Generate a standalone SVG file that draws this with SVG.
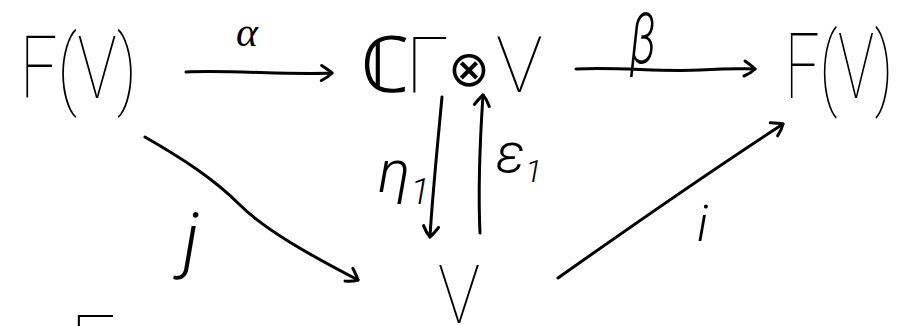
<svg xmlns="http://www.w3.org/2000/svg" width="905" height="326" viewBox="0 0 905 326">
<style>
.n{font-family:Roboto,"DejaVu Sans",sans-serif;font-weight:100;fill:#000}
.l{font-family:Roboto,"DejaVu Sans",sans-serif;font-weight:300;font-style:italic;fill:#000}
.s{font-family:"Liberation Serif","DejaVu Serif",serif;font-style:italic;fill:#000}
.c{fill:none;stroke:#000;stroke-width:3;stroke-linecap:round}
</style>
<defs>
<marker id="ah" viewBox="-14 -10 16 20" refX="0" refY="0" markerWidth="16" markerHeight="20" orient="auto" markerUnits="userSpaceOnUse">
<path d="M-10,-8 Q-3,-3 0,0 Q-4,4 -11,7" fill="none" stroke="#000" stroke-width="3" stroke-linecap="round" stroke-linejoin="round"/>
</marker>
</defs>
<rect width="905" height="326" fill="#fff"/>
<g id="FV-left"><text class="n" x="20" y="98" font-size="88" textLength="117" lengthAdjust="spacingAndGlyphs">F(V)</text></g>
<g id="CG-V"><text class="n" y="92" font-size="78"><tspan x="361">ℂ</tspan><tspan x="406">Γ</tspan><tspan x="448" font-size="50" dy="-6">⊗</tspan><tspan x="496" dy="6">V</tspan></text></g>
<g id="FV-right"><text class="n" x="785" y="98" font-size="90" textLength="108" lengthAdjust="spacingAndGlyphs">F(V)</text></g>
<g id="V-bottom"><text class="n" x="438" y="323" font-size="82" textLength="42" lengthAdjust="spacingAndGlyphs">V</text></g>
<g id="partial"><text class="n" x="70" y="372" font-size="80">F</text></g>
<g id="connectors">
<path class="c" marker-end="url(#ah)" d="M186,72 C230,70 290,75 332,73"/>
<path class="c" marker-end="url(#ah)" d="M576,69 C620,67 660,72 700,70 S740,69 755,69"/>
<path class="c" marker-end="url(#ah)" d="M442,97 C438,140 432,200 430,237"/>
<path class="c" marker-end="url(#ah)" d="M480,233 C478,190 480,140 483,95"/>
<path class="c" marker-end="url(#ah)" d="M145,137 C185,160 215,180 240,205 S310,255 358,280"/>
<path class="c" marker-end="url(#ah)" d="M558,278 C640,220 720,165 783,124"/>
</g>
<g id="labels">
<text class="s" x="236" y="46" font-size="42">α</text>
<text class="l" x="630" y="63" font-size="70" textLength="26" lengthAdjust="spacingAndGlyphs">β</text>
<text class="l" x="378" y="192" font-size="60">η<tspan font-size="36" dy="12">1</tspan></text>
<text class="l" x="496" y="172" font-size="55">ε<tspan font-size="32" dy="10">1</tspan></text>
<text class="l" x="183" y="264" font-size="72">j</text>
<text class="l" x="697" y="241" font-size="50">i</text>
</g>
</svg>
